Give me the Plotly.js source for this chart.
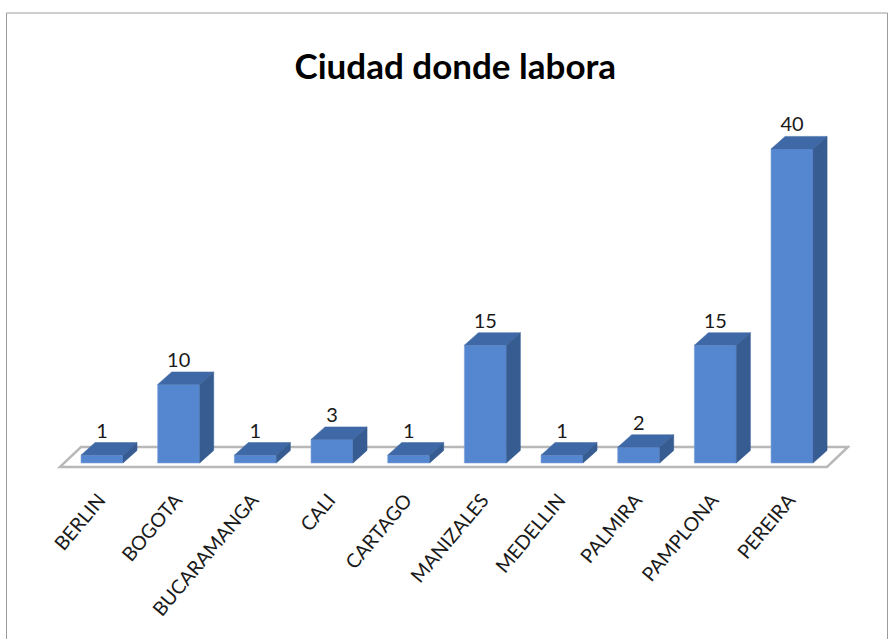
<!DOCTYPE html>
<html>
<head>
<meta charset="utf-8">
<script src="https://cdn.plot.ly/plotly-3.0.1.min.js"></script>
<style>html,body{margin:0;padding:0;background:#fff}#c{width:891px;height:639px}</style>
</head>
<body>
<div id="c"></div>
<script>
const categories = ['BERLIN','BOGOTA','BUCARAMANGA','CALI','CARTAGO','MANIZALES','MEDELLIN','PALMIRA','PAMPLONA','PEREIRA'];
const values = [1,10,1,3,1,15,1,2,15,40];
const positions = categories.map((_, i) => i);

const barW = 0.548, dx = 0.183, dy = 1.6;
const topX = [], topY = [], sideX = [], sideY = [];
positions.forEach((p, i) => {
  const l = p - barW / 2, r = p + barW / 2, v = values[i];
  topX.push(l, r, r + dx, l + dx, l, null);
  topY.push(v, v, v + dy, v + dy, v, null);
  sideX.push(r, r + dx, r + dx, r, r, null);
  sideY.push(0, dy, v + dy, v, 0, null);
});

const font = 'Lato, "Open Sans", sans-serif';
const traces = [
  {type:'bar', x:positions, y:values, width:barW, marker:{color:'#5586D0', line:{color:'#7FA3DC', width:0.6}}, hoverinfo:'skip', showlegend:false},
  {type:'scatter', mode:'lines', x:topX, y:topY, fill:'toself', fillcolor:'#3F69A6', line:{color:'#3F69A6', width:0.5}, hoverinfo:'skip', showlegend:false},
  {type:'scatter', mode:'lines', x:sideX, y:sideY, fill:'toself', fillcolor:'#365C92', line:{color:'#365C92', width:0.5}, hoverinfo:'skip', showlegend:false},
  {type:'scatter', mode:'text', x:positions, y:values.map(v => v + dy), text:values.map(String), textposition:'top center',
   textfont:{family:font, size:20, color:'#1a1a1a'}, hoverinfo:'skip', showlegend:false}
];

const W = 810, H = 375;
const px = x => (x - 40) / W, py = y => (100 + H - y) / H;
const layout = {
  width:891, height:639,
  margin:{l:40, r:41, t:100, b:164},
  paper_bgcolor:'#fff', plot_bgcolor:'rgba(0,0,0,0)',
  title:{text:'<b>Ciudad donde labora</b>', font:{family:font, size:35, color:'#000'}, x:0.511, xanchor:'center', y:0.895, yanchor:'middle'},
  bargap:0,
  xaxis:{range:[-0.8087, 9.756], tickmode:'array', tickvals:positions, ticktext:categories, tickangle:-50, ticklabelshift:-3,
         tickfont:{family:font, size:19.5, color:'#1a1a1a'}, showgrid:false, zeroline:false, showline:false, ticks:'outside', ticklen:5, tickcolor:'rgba(0,0,0,0)', fixedrange:true},
  yaxis:{range:[-1.53, 46.24], showgrid:false, zeroline:false, showline:false, showticklabels:false, ticks:'', fixedrange:true},
  shapes:[
    {type:'path', layer:'below', xref:'x', yref:'y', path:'M -0.548 -0.5 L 9.456 -0.5 L 9.73 2.04 L -0.274 2.04 Z', line:{color:'#B8B8B8', width:2.5}, fillcolor:'#fff'},
    {type:'path', layer:'below', xref:'paper', yref:'paper',
     path:`M ${px(6.5)} ${py(639)} L ${px(6.5)} ${py(13)} L ${px(887.5)} ${py(13)} L ${px(887.5)} ${py(639)}`,
     line:{color:'#9C9C9C', width:1}}
  ],
  showlegend:false
};

Plotly.newPlot('c', traces, layout, {displayModeBar:false, staticPlot:true});
</script>
</body>
</html>
